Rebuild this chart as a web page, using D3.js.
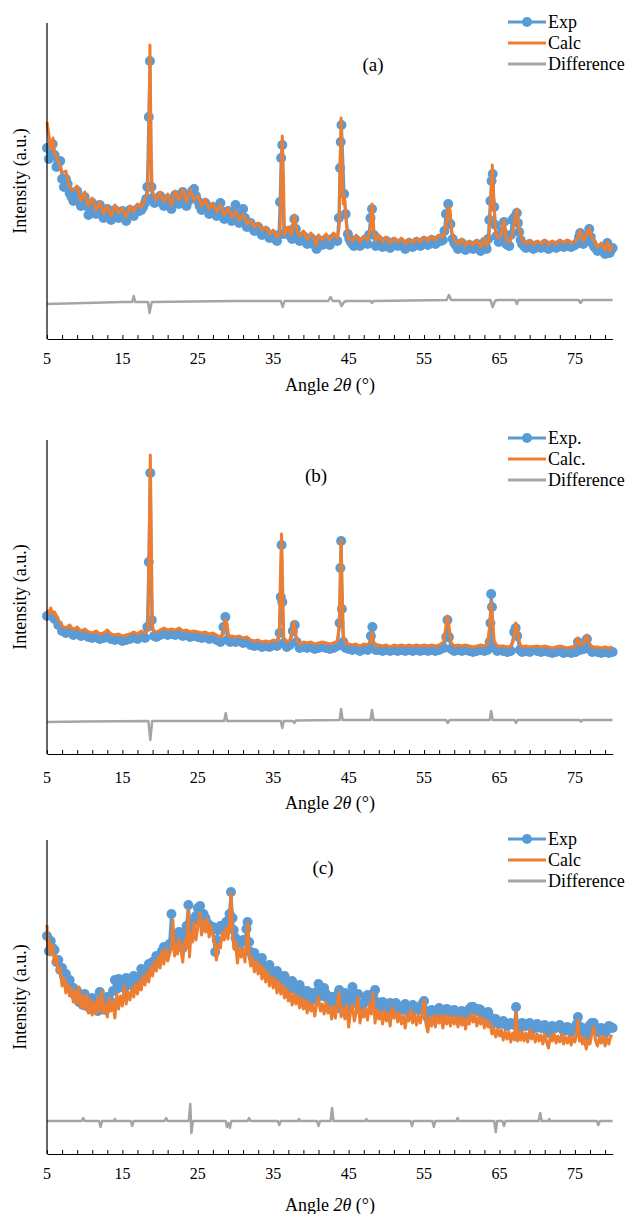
<!DOCTYPE html>
<html>
<head>
<meta charset="utf-8">
<script src="https://cdn.jsdelivr.net/npm/d3@7"></script>
<style>
  body { margin: 0; background: #fff; }
  svg, svg text { font-family: "Liberation Serif", "Times New Roman", "DejaVu Serif", serif; }
  svg text { fill: #000; }
</style>
</head>
<body>
<svg id="chart" width="629" height="1214"></svg>
<script>
// ---------- X-ray diffraction patterns: [angle 2θ (°), intensity (a.u.)] ----------

// Pattern (a)
const expA = [[5,191],[5.25,180],[5.5,188],[5.75,195],[6,184],[6.25,172],[6.5,176],[6.75,178],[7,160],[7.25,152],[7.5,160],[7.75,155],[8,146],[8.25,142],[8.5,138],[8.75,144],[9,148],[9.25,140],[9.5,133],[9.75,138],[10,142],[10.25,133],[10.5,124],[10.75,130],[11,136],[11.25,131],[11.5,125],[11.75,129],[12,134],[12.25,127],[12.5,121],[12.75,126],[13,130],[13.25,124],[13.5,119],[13.75,124],[14,129],[14.25,126],[14.5,121],[14.75,124],[15,128],[15.25,123],[15.5,118],[15.75,123],[16,129],[16.25,126],[16.5,123],[16.75,127],[17,130],[17.25,128],[17.5,129],[17.75,132],[18,136],[18.15,140],[18.3,152],[18.5,222],[18.65,278],[18.85,152],[19,141],[19.25,136],[19.5,137],[19.75,140],[20,143],[20.25,137],[20.5,133],[20.75,136],[21,140],[21.25,135],[21.5,130],[21.75,137],[22,144],[22.25,139],[22.5,135],[22.75,141],[23,147],[23.25,140],[23.5,133],[23.75,138],[24,144],[24.25,148],[24.5,150],[24.75,143],[25,138],[25.25,133],[25.5,129],[25.75,132],[26,136],[26.25,130],[26.5,125],[26.75,128],[27,132],[27.25,127],[27.5,123],[27.75,130],[28,136],[28.25,127],[28.5,120],[28.75,124],[29,128],[29.25,122],[29.5,118],[29.75,126],[30,134],[30.25,124],[30.5,116],[30.75,122],[31,130],[31.25,121],[31.5,112],[31.75,114],[32,116],[32.25,111],[32.5,108],[32.75,110],[33,112],[33.25,107],[33.5,104],[33.75,106],[34,108],[34.25,104],[34.5,101],[34.75,102],[35,104],[35.25,100],[35.5,98],[35.75,104],[35.9,137],[36.05,181],[36.2,194],[36.4,105],[36.75,106],[37,108],[37.25,103],[37.5,100],[37.65,110],[37.8,120],[38,110],[38.2,103],[38.5,98],[38.75,100],[39,103],[39.25,98],[39.5,95],[39.75,98],[40,101],[40.25,97],[40.5,94],[40.75,90],[41,99],[41.25,96],[41.5,94],[41.75,97],[42,100],[42.25,96],[42.5,94],[42.75,98],[43,101],[43.25,99],[43.5,98],[43.7,121],[43.85,171],[43.95,197],[44.05,214],[44.4,145],[44.6,125],[44.9,105],[45.1,100],[45.3,97],[45.5,95],[45.7,93],[46,99],[46.25,96],[46.5,93],[46.75,95],[47,98],[47.25,96],[47.5,95],[47.7,104],[47.9,121],[48.1,130],[48.35,104],[48.6,93],[48.8,96],[49,99],[49.25,95],[49.5,92],[49.75,95],[50,98],[50.25,94],[50.5,91],[50.75,94],[51,97],[51.25,95],[51.5,93],[51.75,94],[52,96],[52.25,93],[52.5,90],[52.75,93],[53,96],[53.25,94],[53.5,92],[53.75,94],[54,97],[54.25,95],[54.5,93],[54.75,95],[55,98],[55.25,96],[55.5,94],[55.75,96],[56,99],[56.25,97],[56.5,95],[56.75,97],[57,100],[57.25,98],[57.5,99],[57.7,108],[57.9,125],[58.2,135],[58.5,115],[58.8,100],[59,96],[59.2,94],[59.5,90],[59.75,93],[60,96],[60.25,92],[60.5,89],[60.75,91],[61,94],[61.25,92],[61.5,90],[61.75,92],[62,95],[62.25,91],[62.5,88],[62.75,92],[63,97],[63.15,93],[63.3,90],[63.5,100],[63.65,119],[63.8,138],[63.95,158],[64.1,165],[64.3,132],[64.45,114],[64.6,103],[64.9,97],[65.2,100],[65.4,108],[65.6,117],[65.75,104],[65.9,95],[66.1,94],[66.3,93],[66.5,104],[66.7,119],[67,122],[67.3,126],[67.45,116],[67.6,107],[67.8,99],[68,95],[68.25,93],[68.5,91],[68.75,93],[69,95],[69.25,92],[69.5,90],[69.75,92],[70,94],[70.25,92],[70.5,91],[70.75,93],[71,95],[71.25,92],[71.5,90],[71.75,92],[72,94],[72.25,92],[72.5,91],[72.75,93],[73,95],[73.25,93],[73.5,92],[73.75,93],[74,95],[74.25,93],[74.5,92],[74.75,93],[75,94],[75.2,95],[75.4,97],[75.55,102],[75.7,106],[75.9,99],[76.1,95],[76.3,97],[76.5,99],[76.7,104],[76.9,110],[77.1,102],[77.3,96],[77.5,93],[77.7,91],[78,88],[78.25,89],[78.5,91],[78.75,88],[79,85],[79.15,90],[79.3,96],[79.45,90],[79.6,86],[79.8,89],[80,91]];
const calcA = [[5,217],[5.5,190],[5.8,201],[6,186],[6.5,178],[7,166],[7.5,168],[8,152],[8.5,149],[9,153],[9.5,138],[10,147],[10.5,133],[11,141],[11.5,129],[12,137],[12.5,125],[13,133],[13.5,123],[14,134],[14.5,126],[15,131],[15.5,122],[16,133],[16.5,127],[17,135],[17.5,132],[18,140],[18.35,146],[18.5,190],[18.65,294],[18.8,190],[18.95,148],[19.5,139],[20,147],[20.5,137],[21,145],[21.5,134],[22,148],[22.5,139],[23,150],[23.5,137],[24,149],[24.5,139],[25,143],[25.5,133],[26,140],[26.5,130],[27,136],[27.5,127],[28,134],[28.5,124],[29,131],[29.5,122],[30,128],[30.5,119],[31,125],[31.5,115],[32,119],[32.5,112],[33,116],[33.5,109],[34,112],[34.5,105],[35,109],[35.5,102],[35.9,106],[36.05,160],[36.2,203],[36.35,160],[36.5,104],[37,112],[37.4,104],[37.8,124],[38.2,107],[38.5,103],[39,108],[39.5,100],[40,106],[40.5,98],[40.75,94],[41,104],[41.5,99],[42,105],[42.5,99],[43,106],[43.5,101],[43.75,112],[43.9,185],[44,221],[44.15,170],[44.3,135],[44.45,143],[44.6,125],[44.8,106],[45,101],[45.5,98],[46,104],[46.5,97],[47,103],[47.5,99],[47.85,108],[48.1,135],[48.35,108],[48.6,98],[49,104],[49.5,97],[50,102],[50.5,96],[51,101],[51.5,97],[52,101],[52.5,95],[53,100],[53.5,96],[54,101],[54.5,97],[55,102],[55.5,98],[56,103],[56.5,99],[57,104],[57.5,102],[57.9,112],[58.2,132],[58.45,129],[58.7,106],[59,99],[59.5,95],[60,100],[60.5,93],[61,98],[61.5,94],[62,99],[62.5,92],[63,101],[63.3,93],[63.6,99],[63.85,140],[64.05,174],[64.25,138],[64.5,106],[64.8,101],[65.2,104],[65.6,119],[65.9,99],[66.3,97],[66.7,104],[67,118],[67.3,130],[67.6,110],[68,99],[68.5,95],[69,99],[69.5,94],[70,98],[70.5,95],[71,99],[71.5,94],[72,98],[72.5,95],[73,99],[73.5,96],[74,99],[74.5,96],[75,98],[75.4,101],[75.7,109],[76.1,98],[76.5,103],[76.9,111],[77.3,100],[77.7,96],[78,92],[78.5,96],[79,89],[79.3,97],[79.6,88],[80,94]];
const diffA = [[5,35],[10,36],[15,37],[16.3,37],[16.5,43],[16.7,37],[18.4,37],[18.6,26],[18.75,32],[18.9,37],[30,38],[36,38],[36.25,32],[36.5,38],[42.3,38],[42.6,42],[42.9,38],[43.8,38],[44.05,33],[44.4,37],[44.7,38],[47.9,38],[48.1,36],[48.3,38],[58,39],[58.3,44],[58.6,39],[63.8,39],[64.1,32],[64.4,38],[64.7,39],[67.1,39],[67.3,35],[67.5,39],[75.5,39],[75.75,36],[76,39],[80,39]];

// Pattern (b)
const expB = [[5,138],[5.5,139],[6,135],[6.5,129],[7,123],[7.5,121],[8,123],[8.5,119],[9,121],[9.5,118],[10,119],[10.5,117],[11,116],[11.5,117],[12,115],[12.5,116],[13,118],[13.5,115],[14,114],[14.5,115],[15,113],[15.5,114],[16,115],[16.5,117],[17,115],[17.5,118],[18,116],[18.3,127],[18.5,192],[18.7,281],[18.9,134],[19.2,118],[19.5,117],[20,119],[20.5,121],[21,119],[21.5,120],[22,119],[22.5,121],[23,118],[23.5,119],[24,117],[24.5,118],[25,117],[25.5,116],[26,117],[26.5,115],[27,116],[27.5,114],[28,112],[28.4,127],[28.65,137],[28.9,114],[29.3,112],[29.5,113],[30,112],[30.5,113],[31,111],[31.5,112],[32,109],[32.5,108],[33,109],[33.5,107],[34,108],[34.5,107],[35,109],[35.5,108],[35.85,121],[36,157],[36.1,209],[36.2,152],[36.4,111],[36.8,107],[37.2,109],[37.6,123],[37.85,129],[38.1,112],[38.5,106],[39,107],[39.5,106],[40,107],[40.5,105],[41,106],[41.5,107],[42,106],[42.5,105],[43,106],[43.5,108],[43.8,131],[43.9,186],[44,213],[44.1,145],[44.3,112],[44.6,106],[45,105],[45.5,104],[46,105],[46.5,103],[47,105],[47.5,104],[47.95,118],[48.15,127],[48.35,107],[48.6,104],[49,104],[49.5,103],[50,104],[50.5,103],[51,104],[51.5,103],[52,104],[52.5,103],[53,104],[53.5,103],[54,104],[54.5,103],[55,104],[55.5,103],[56,104],[56.5,103],[57,104],[57.6,106],[57.95,117],[58.1,134],[58.3,117],[58.6,105],[59,103],[59.5,104],[60,103],[60.5,104],[61,103],[61.5,102],[62,103],[62.5,104],[63,103],[63.4,104],[63.7,112],[63.8,131],[63.9,160],[64,147],[64.2,107],[64.7,103],[65.5,103],[66,102],[66.5,103],[66.95,122],[67.15,126],[67.35,118],[67.7,104],[68,102],[68.5,103],[69,102],[70,103],[70.5,102],[71,103],[71.5,102],[72,101],[72.5,102],[73,103],[73.5,101],[74,102],[74.5,101],[75.1,102],[75.4,112],[75.7,104],[76.2,105],[76.6,115],[76.9,105],[77.3,102],[78,102],[78.5,101],[79,102],[79.5,101],[80,102]];
const calcB = [[5,144],[5.3,141],[5.5,146],[5.8,140],[6,142],[6.5,134],[7,128],[7.5,126],[8,129],[8.5,124],[9,127],[9.5,123],[10,125],[10.5,122],[11,121],[11.5,123],[12,120],[12.5,121],[13,124],[13.5,120],[14,119],[14.5,120],[15,118],[15.5,119],[16,120],[16.5,122],[17,120],[17.5,123],[18,121],[18.4,124],[18.55,210],[18.7,299],[18.85,200],[19,124],[19.5,122],[20,124],[20.5,126],[21,124],[21.5,125],[22,124],[22.5,126],[23,123],[23.5,124],[24,122],[24.5,123],[25,122],[25.5,121],[26,122],[26.5,120],[27,121],[27.5,119],[28,117],[28.4,120],[28.6,134],[28.85,131],[29.1,118],[29.5,118],[30,117],[30.5,118],[31,116],[31.5,117],[32,114],[32.5,113],[33,114],[33.5,112],[34,113],[34.5,112],[35,114],[35.5,113],[35.8,120],[35.95,175],[36.1,220],[36.25,165],[36.4,116],[36.8,112],[37.2,114],[37.5,122],[37.75,132],[38,118],[38.3,111],[38.7,110],[39,112],[39.5,111],[40,112],[40.5,110],[41,111],[41.5,112],[42,111],[42.5,110],[43,111],[43.5,113],[43.75,128],[43.9,175],[44,214],[44.15,165],[44.3,118],[44.6,111],[45,110],[45.5,109],[46,110],[46.5,108],[47,110],[47.5,109],[47.9,112],[48.1,121],[48.3,112],[48.6,108],[49,109],[49.5,108],[50,109],[50.5,107],[51,109],[51.5,108],[52,109],[52.5,108],[53,109],[53.5,108],[54,109],[54.5,108],[55,109],[55.5,108],[56,109],[56.5,108],[57,109],[57.6,112],[57.9,128],[58.1,138],[58.35,126],[58.6,111],[59,108],[59.5,109],[60,108],[60.5,109],[61,108],[61.5,107],[62,108],[62.5,109],[63,108],[63.4,110],[63.65,125],[63.9,152],[64.05,136],[64.3,113],[64.7,108],[65.5,108],[66,107],[66.5,108],[66.9,114],[67.15,131],[67.4,124],[67.7,110],[68,107],[68.5,108],[69,107],[70,108],[70.5,107],[71,108],[71.5,107],[72,106],[72.5,107],[73,108],[73.5,107],[74,106],[74.5,107],[75.1,108],[75.4,116],[75.7,109],[76.2,111],[76.6,119],[76.9,111],[77.3,107],[78,107],[78.5,106],[79,107],[79.5,106],[80,107]];
const diffB = [[5,32],[10,32.5],[18.45,33],[18.7,14],[18.95,33],[28.5,33],[28.7,41],[28.9,33],[36,33],[36.2,26],[36.4,33],[37.6,33],[37.8,31],[38,33.5],[43.8,34],[44,45],[44.2,34],[47.9,34],[48.1,44],[48.3,34],[57.9,34],[58.15,31],[58.4,34],[63.7,34],[63.9,43],[64.1,34],[67,34],[67.2,31],[67.4,34],[75.6,34],[75.8,32.5],[76,34],[80,34]];

// Pattern (c)
const expC = [[5,218],[5.25,203],[5.5,213],[5.75,206],[6,204],[6.25,192],[6.5,194],[6.75,184],[7,186],[7.25,178],[7.5,180],[7.75,172],[8,174],[8.25,167],[8.5,166],[8.75,158],[9,163],[9.25,152],[9.5,158],[9.75,149],[10,160],[10.25,148],[10.5,153],[10.75,145],[11,156],[11.25,146],[11.5,151],[11.75,143],[12,162],[12.25,150],[12.5,153],[12.75,144],[13,157],[13.25,148],[13.5,152],[13.75,163],[14,174],[14.25,165],[14.5,175],[14.75,168],[15,172],[15.25,166],[15.5,176],[15.75,169],[16,174],[16.25,170],[16.5,178],[16.75,173],[17,177],[17.25,175],[17.5,185],[17.75,178],[18,182],[18.25,183],[18.5,190],[18.75,186],[19,192],[19.25,193],[19.5,198],[19.75,196],[20,199],[20.25,203],[20.5,207],[20.75,203],[21,206],[21.25,210],[21.5,240],[21.75,214],[22,213],[22.25,218],[22.5,222],[22.75,214],[23,206],[23.25,220],[23.5,228],[23.75,249],[24,226],[24.25,220],[24.5,233],[24.75,238],[25,246],[25.3,248],[25.5,232],[25.75,240],[26,236],[26.25,231],[26.5,229],[26.75,224],[27,227],[27.3,202],[27.5,214],[27.75,224],[28,228],[28.25,227],[28.5,229],[28.75,232],[29,233],[29.2,240],[29.4,262],[29.6,236],[29.75,224],[30,216],[30.25,207],[30.5,209],[30.75,212],[31,214],[31.25,213],[31.45,225],[31.6,232],[31.8,212],[32,202],[32.25,197],[32.5,201],[32.75,195],[33,193],[33.25,190],[33.5,196],[33.75,188],[34,187],[34.25,184],[34.5,189],[34.75,181],[35,182],[35.25,178],[35.5,183],[35.75,175],[36,177],[36.25,172],[36.5,178],[36.75,170],[37,172],[37.25,166],[37.5,173],[37.75,165],[38,167],[38.25,162],[38.5,169],[38.75,160],[39,163],[39.25,158],[39.5,163],[39.75,155],[40,161],[40.25,154],[40.5,158],[40.75,162],[41,170],[41.25,160],[41.5,158],[41.75,166],[42,160],[42.25,155],[42.5,151],[42.75,157],[43,147],[43.25,152],[43.5,159],[43.75,164],[44,145],[44.25,153],[44.5,161],[44.75,152],[45,147],[45.25,158],[45.5,167],[45.75,156],[46,151],[46.25,160],[46.5,146],[46.75,150],[47,151],[47.25,156],[47.5,159],[47.75,153],[48,154],[48.25,160],[48.5,164],[48.75,152],[49,147],[49.25,150],[49.5,152],[49.75,148],[50,144],[50.25,148],[50.5,151],[50.75,147],[51,147],[51.25,151],[51.5,148],[51.75,145],[52,144],[52.25,147],[52.5,150],[52.75,145],[53,141],[53.25,145],[53.5,149],[53.75,146],[54,145],[54.25,144],[54.5,147],[54.75,150],[55,153],[55.25,143],[55.5,136],[55.75,140],[56,144],[56.25,143],[56.5,141],[56.75,143],[57,146],[57.25,142],[57.5,140],[57.75,142],[58,145],[58.25,144],[58.5,142],[58.75,143],[59,144],[59.25,142],[59.5,140],[59.75,141],[60,143],[60.25,140],[60.5,138],[60.75,141],[61,145],[61.25,147],[61.5,147],[61.75,144],[62,143],[62.25,145],[62.5,144],[62.75,141],[63,139],[63.25,141],[63.5,142],[63.75,137],[64,132],[64.25,131],[64.5,135],[64.75,132],[65,130],[65.25,131],[65.5,133],[65.75,130],[66,128],[66.25,129],[66.5,131],[66.75,130],[67,129],[67.2,147],[67.4,127],[67.6,125],[67.8,129],[68,131],[68.25,129],[68.5,128],[68.75,130],[69,131],[69.25,128],[69.5,125],[69.75,127],[70,130],[70.25,128],[70.5,126],[70.75,127],[71,129],[71.25,124],[71.5,121],[71.75,125],[72,128],[72.25,127],[72.5,126],[72.75,127],[73,129],[73.25,126],[73.5,123],[73.75,125],[74,127],[74.25,124],[74.5,122],[74.75,125],[75,127],[75.25,130],[75.4,137],[75.55,128],[75.75,123],[76,126],[76.25,122],[76.5,118],[76.75,124],[77,129],[77.25,131],[77.5,131],[77.75,126],[78,122],[78.25,124],[78.5,126],[78.75,123],[79,121],[79.25,124],[79.5,128],[79.75,127],[80,126]];
const calcC = [[5,229],[5.1,205],[5.25,214],[5.5,199],[5.75,209],[6,190],[6.25,198],[6.5,182],[6.75,186],[7,168],[7.25,176],[7.5,161],[7.75,170],[8,158],[8.25,166],[8.5,152],[8.75,163],[9,150],[9.25,167],[9.5,147],[9.75,158],[10,145],[10.25,159],[10.5,141],[10.75,154],[11,139],[11.25,152],[11.5,140],[11.75,156],[12,143],[12.25,163],[12.5,141],[12.75,150],[13,137],[13.25,156],[13.5,143],[13.75,152],[14,136],[14.25,160],[14.5,145],[14.75,158],[15,148],[15.25,168],[15.5,150],[15.75,162],[16,154],[16.25,166],[16.5,157],[16.75,170],[17,160],[17.25,173],[17.5,164],[17.75,178],[18,169],[18.25,182],[18.5,172],[18.75,187],[19,178],[19.25,192],[19.5,183],[19.75,197],[20,186],[20.25,203],[20.5,190],[20.75,205],[21,193],[21.25,200],[21.5,205],[21.7,234],[21.9,198],[22.1,210],[22.3,200],[22.5,215],[22.75,205],[23,192],[23.25,214],[23.5,206],[23.75,244],[23.9,197],[24.1,222],[24.3,212],[24.5,231],[24.75,214],[25,228],[25.25,241],[25.5,219],[25.75,233],[26,222],[26.25,235],[26.5,217],[26.75,228],[27,218],[27.25,210],[27.45,194],[27.75,210],[28,206],[28.25,222],[28.5,214],[28.75,226],[29,215],[29.2,232],[29.4,261],[29.6,220],[29.8,205],[30,212],[30.25,191],[30.5,206],[30.75,197],[31,205],[31.25,192],[31.45,215],[31.6,231],[31.8,200],[32,188],[32.25,196],[32.5,182],[32.75,192],[33,180],[33.25,190],[33.5,175],[33.75,186],[34,172],[34.25,182],[34.5,168],[34.75,177],[35,166],[35.25,176],[35.5,161],[35.75,172],[36,160],[36.25,169],[36.5,156],[36.75,165],[37,153],[37.25,162],[37.5,149],[37.75,160],[38,150],[38.25,158],[38.5,146],[38.75,156],[39,145],[39.25,154],[39.5,141],[39.75,152],[40,143],[40.25,150],[40.5,138],[40.75,149],[41,157],[41.25,143],[41.5,150],[41.75,140],[42,152],[42.25,141],[42.5,147],[42.75,135],[43,148],[43.25,136],[43.5,151],[43.75,162],[44,137],[44.25,146],[44.5,135],[44.75,149],[45,127],[45.25,142],[45.5,150],[45.75,133],[46,141],[46.25,157],[46.5,131],[46.75,144],[47,137],[47.25,146],[47.5,134],[47.75,150],[48,140],[48.25,161],[48.5,131],[48.75,144],[49,135],[49.25,142],[49.5,130],[49.75,143],[50,133],[50.25,141],[50.5,128],[50.75,146],[51,136],[51.25,142],[51.5,132],[51.75,141],[52,130],[52.25,138],[52.5,126],[52.75,139],[53,133],[53.25,144],[53.5,131],[53.75,140],[54,129],[54.25,139],[54.5,131],[54.75,140],[55,154],[55.25,130],[55.5,122],[55.75,137],[56,128],[56.25,138],[56.5,127],[56.75,139],[57,131],[57.25,138],[57.5,126],[57.75,139],[58,130],[58.25,137],[58.5,128],[58.75,138],[59,130],[59.25,136],[59.5,127],[59.75,138],[60,129],[60.25,136],[60.5,125],[60.75,136],[61,130],[61.25,140],[61.5,132],[61.75,139],[62,128],[62.25,137],[62.5,130],[62.75,136],[63,126],[63.25,134],[63.5,127],[63.75,131],[64,120],[64.25,126],[64.5,117],[64.75,125],[65,118],[65.25,124],[65.5,114],[65.75,123],[66,115],[66.25,122],[66.5,112],[66.75,121],[67,114],[67.2,142],[67.4,113],[67.6,122],[67.8,114],[68,123],[68.25,113],[68.5,121],[68.75,112],[69,124],[69.25,115],[69.5,121],[69.75,112],[70,120],[70.25,113],[70.5,119],[70.75,110],[71,120],[71.25,112],[71.5,106],[71.75,118],[72,113],[72.25,121],[72.5,111],[72.75,118],[73,112],[73.25,120],[73.5,110],[73.75,117],[74,111],[74.25,118],[74.5,109],[74.75,117],[75,112],[75.2,119],[75.4,134],[75.6,113],[75.8,118],[76,110],[76.25,116],[76.5,105],[76.75,114],[77,110],[77.25,120],[77.5,127],[77.75,113],[78,108],[78.25,117],[78.5,111],[78.75,118],[79,108],[79.25,116],[79.5,110],[79.75,118],[80,118]];
const diffC = [[5,33],[9.6,33],[9.8,36],[10,33],[11.9,33],[12.1,27],[12.3,33],[13.9,33],[14,35],[14.1,33],[16.1,33],[16.3,28],[16.5,33],[20.6,33],[20.8,36],[21,33],[23.8,33],[24,50],[24.15,21],[24.35,33],[28.7,33],[28.85,27],[29.05,31],[29.25,26],[29.45,33],[31.6,33],[31.8,36],[32,33],[35.6,33],[35.8,29],[36,33],[38.3,33],[38.4,35],[38.6,33],[40.8,33],[41,28],[41.2,33],[42.6,33],[42.8,46],[43,33],[47.2,33],[47.35,35],[47.5,33],[53.2,33],[53.4,28],[53.6,33],[56.1,33],[56.3,27],[56.5,33],[59.3,33],[59.45,36],[59.6,33],[64.3,33],[64.5,22],[64.7,33],[65.4,33],[65.6,28],[65.8,33],[70.2,33],[70.4,41],[70.6,33],[71.5,33],[71.6,35],[71.7,33],[77.9,33],[78.1,29],[78.3,33],[80,33]];

// Axis text
const angleTickLabels = [5, 15, 25, 35, 45, 55, 65, 75];
const panelLabels = ["(a)", "(b)", "(c)"];
const legendA = ["Exp", "Calc", "Difference"];
const legendB = ["Exp.", "Calc.", "Difference"];
const legendC = ["Exp", "Calc", "Difference"];
const xTitle = "Angle ";
const yTitle = "Intensity (a.u.)";

// ---------- layout ----------
const FONT = "'Liberation Serif', 'Times New Roman', 'DejaVu Serif', serif";
const colors = { exp: "#5B9BD5", calc: "#ED7D31", diff: "#A5A5A5" };
const panels = [
  { label: panelLabels[0], exp: expA, calc: calcA, diff: diffA, legend: legendA,
    top: 23, bottom: 339, labelX: 373, labelY: 71, legendY: 22, tickDy: 25, titleDy: 52 },
  { label: panelLabels[1], exp: expB, calc: calcB, diff: diffB, legend: legendB,
    top: 440, bottom: 754, labelX: 316, labelY: 482, legendY: 438, tickDy: 29, titleDy: 55 },
  { label: panelLabels[2], exp: expC, calc: calcC, diff: diffC, legend: legendC,
    top: 840, bottom: 1154, labelX: 323, labelY: 874, legendY: 839, tickDy: 25, titleDy: 57 }
];

const svg = d3.select("#chart").attr("font-family", FONT);
const x = d3.scaleLinear().domain([5, 80]).range([47, 612.6]);
const minorTicks = d3.range(5, 80, 2);

panels.forEach(p => {
  const y = d3.scaleLinear().domain([0, p.bottom - p.top]).range([p.bottom, p.top]);
  const g = svg.append("g");
  const line = d3.line().x(d => x(d[0])).y(d => y(d[1]));

  // Experimental pattern: line plus round markers
  g.append("path").datum(p.exp).attr("d", line)
    .attr("fill", "none").attr("stroke", colors.exp).attr("stroke-width", 3)
    .attr("stroke-linejoin", "round");
  g.append("g").selectAll("circle").data(p.exp).join("circle")
    .attr("cx", d => x(d[0])).attr("cy", d => y(d[1])).attr("r", 5)
    .attr("fill", colors.exp);

  // Calculated pattern
  g.append("path").datum(p.calc).attr("d", line)
    .attr("fill", "none").attr("stroke", colors.calc).attr("stroke-width", 3)
    .attr("stroke-linejoin", "round");

  // Difference curve
  g.append("path").datum(p.diff).attr("d", line)
    .attr("fill", "none").attr("stroke", colors.diff).attr("stroke-width", 2.5)
    .attr("stroke-linejoin", "round");

  // Y axis: plain line, no ticks
  g.append("line").attr("x1", x(5)).attr("x2", x(5))
    .attr("y1", p.top).attr("y2", p.bottom)
    .attr("stroke", "#000").attr("stroke-width", 1.2);

  // X axis with inward minor ticks
  const xAxis = d3.axisBottom(x).tickValues(minorTicks)
    .tickSizeInner(-4).tickSizeOuter(0).tickFormat("");
  const ax = g.append("g").attr("transform", `translate(0,${p.bottom})`).call(xAxis);
  ax.select(".domain").attr("stroke", "#000").attr("stroke-width", 1.2);
  ax.selectAll(".tick line").attr("stroke", "#000").attr("stroke-width", 1);

  g.append("g").selectAll("text").data(angleTickLabels).join("text")
    .attr("x", d => x(d)).attr("y", p.bottom + p.tickDy)
    .attr("font-family", FONT)
    .attr("text-anchor", "middle").attr("font-size", 16).text(d => d);

  // Axis titles
  const t = g.append("text").attr("x", 330).attr("y", p.bottom + p.titleDy)
    .attr("font-family", FONT)
    .attr("text-anchor", "middle").attr("font-size", 18);
  t.append("tspan").text(xTitle);
  t.append("tspan").attr("font-style", "italic").text("2θ");
  t.append("tspan").text(" (°)");

  g.append("text")
    .attr("transform", `translate(20,${(p.top + p.bottom) / 2}) rotate(-90)`)
    .attr("font-family", FONT)
    .attr("text-anchor", "middle").attr("dominant-baseline", "central")
    .attr("font-size", 18).text(yTitle);

  // Panel label
  g.append("text").attr("x", p.labelX).attr("y", p.labelY)
    .attr("font-family", FONT)
    .attr("text-anchor", "middle").attr("font-size", 19).text(p.label);

  // Legend
  const keys = ["exp", "calc", "diff"];
  const lg = g.append("g");
  keys.forEach((k, i) => {
    const ly = p.legendY + i * 21;
    lg.append("line").attr("x1", 508).attr("x2", 546).attr("y1", ly).attr("y2", ly)
      .attr("stroke", colors[k]).attr("stroke-width", 3);
    if (k === "exp") {
      lg.append("circle").attr("cx", 527).attr("cy", ly).attr("r", 5).attr("fill", colors.exp);
    }
    lg.append("text").attr("x", 548).attr("y", ly + 6)
      .attr("font-family", FONT).attr("font-size", 18).text(p.legend[i]);
  });
});
</script>
</body>
</html>
